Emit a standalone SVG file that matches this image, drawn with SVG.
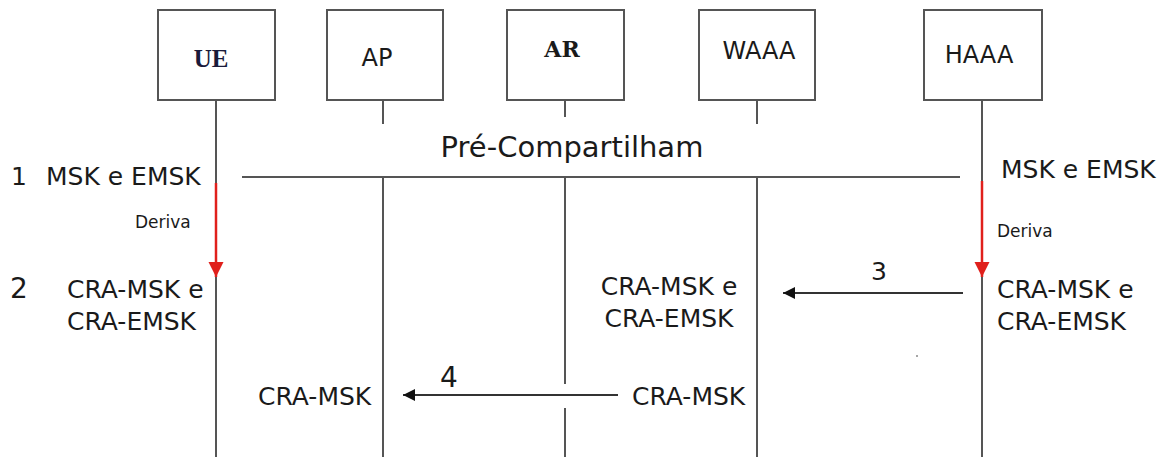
<svg xmlns="http://www.w3.org/2000/svg" width="1167" height="457" viewBox="0 0 1167 457">
<style>
.box{fill:#fff;stroke:#555;stroke-width:2}
.life{stroke:#555;stroke-width:2;fill:none}
.msg{stroke:#333;stroke-width:2;fill:none}
.red{stroke:#e0201c;stroke-width:2.5;fill:none}
.t{font-family:"DejaVu Sans",sans-serif;fill:#1a1a1a}
</style>
<defs>
<marker id="ah" viewBox="0 0 10 10" refX="10" refY="5" markerWidth="6" markerHeight="6" markerUnits="strokeWidth" orient="auto"><path d="M0,0 L10,5 L0,10 Z" fill="#111"/></marker>
<marker id="rh" viewBox="0 0 10 10" refX="10" refY="5" markerWidth="6" markerHeight="6.5" markerUnits="strokeWidth" orient="auto"><path d="M0,0 L10,5 L0,10 Z" fill="#e0201c"/></marker>
</defs>
<g id="UE">
<rect class="box" x="158" y="10" width="117" height="90"/>
<text x="211" y="67" text-anchor="middle" font-family="'Liberation Serif',serif" font-weight="bold" font-size="25" fill="#1a1a3a">UE</text>
</g>
<g id="AP">
<rect class="box" x="327" y="10" width="116" height="90"/>
<text class="t" x="377" y="66" text-anchor="middle" font-size="24">AP</text>
</g>
<g id="AR">
<rect class="box" x="507" y="10" width="117" height="90"/>
<text x="562" y="57" text-anchor="middle" font-family="'DejaVu Serif',serif" font-weight="bold" font-size="22" fill="#1a1a1a">AR</text>
</g>
<g id="WAAA">
<rect class="box" x="699" y="10" width="116" height="90"/>
<text class="t" x="759" y="59" text-anchor="middle" font-size="24">WAAA</text>
</g>
<g id="HAAA">
<rect class="box" x="924" y="10" width="118" height="90"/>
<text class="t" x="979" y="63" text-anchor="middle" font-size="24">HAAA</text>
</g>
<g id="connectors">
<line class="life" x1="216" y1="100" x2="216" y2="457"/>
<line class="life" x1="383" y1="100" x2="383" y2="124"/>
<line class="life" x1="383" y1="177" x2="383" y2="457"/>
<line class="life" x1="565" y1="100" x2="565" y2="117"/>
<line class="life" x1="565" y1="177" x2="565" y2="384"/>
<line class="life" x1="565" y1="408" x2="565" y2="457"/>
<line class="life" x1="757" y1="100" x2="757" y2="124"/>
<line class="life" x1="757" y1="177" x2="757" y2="457"/>
<line class="life" x1="982" y1="100" x2="982" y2="457"/>
<line class="life" x1="242" y1="177" x2="960" y2="177"/>
<line class="red" x1="216" y1="183" x2="216" y2="277" marker-end="url(#rh)"/>
<line class="red" x1="982" y1="181" x2="982" y2="277" marker-end="url(#rh)"/>
<line class="msg" x1="963" y1="293" x2="783" y2="293" marker-end="url(#ah)"/>
<line class="msg" x1="618" y1="395" x2="403" y2="395" marker-end="url(#ah)"/>
</g>
<g id="labels">
<text class="t" x="572" y="157" text-anchor="middle" font-size="29">Pré-Compartilham</text>
<text class="t" x="11" y="185" font-size="25">1</text>
<text class="t" x="46" y="185" font-size="25">MSK e EMSK</text>
<text class="t" x="1001" y="178" font-size="25">MSK e EMSK</text>
<text class="t" x="135" y="228" font-size="17">Deriva</text>
<text class="t" x="997" y="237" font-size="17">Deriva</text>
<text class="t" x="10" y="298" font-size="28">2</text>
<text class="t" x="67" y="298" font-size="25">CRA-MSK e</text>
<text class="t" x="67" y="330" font-size="25">CRA-EMSK</text>
<text class="t" x="669" y="295" text-anchor="middle" font-size="25">CRA-MSK e</text>
<text class="t" x="669" y="327" text-anchor="middle" font-size="25">CRA-EMSK</text>
<text class="t" x="997" y="298" font-size="25">CRA-MSK e</text>
<text class="t" x="997" y="330" font-size="25">CRA-EMSK</text>
<text class="t" x="871" y="280" font-size="25">3</text>
<text class="t" x="440" y="387" font-size="28">4</text>
<text class="t" x="258" y="405" font-size="25">CRA-MSK</text>
<text class="t" x="632" y="405" font-size="25">CRA-MSK</text>
</g>
<circle cx="917" cy="356" r="1" fill="#888"/>
</svg>
